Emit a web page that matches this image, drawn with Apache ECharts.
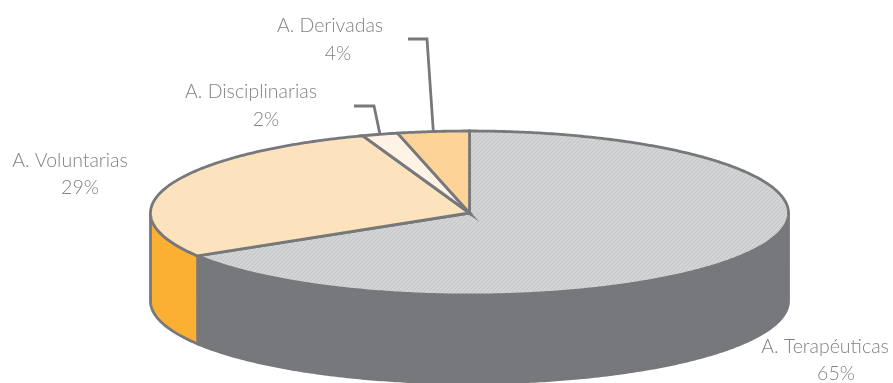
<!DOCTYPE html>
<html>
<head>
<meta charset="utf-8">
<style>html,body{margin:0;padding:0;background:#fff}#c{width:893px;height:383px}</style>
<script src="https://cdn.jsdelivr.net/npm/echarts@6/dist/echarts.min.js"></script>
</head>
<body>
<div id="c"></div>
<script>
var categories = ['A. Terapéuticas', 'A. Voluntarias', 'A. Disciplinarias', 'A. Derivadas'];
var values = [65, 29, 2, 4];

var topColors = [null, '#fde3bd', '#fef3e5', '#fdd398'];
var wallColors = ['#77787b', '#fbb034', '#fbb034', '#fbb034'];
var OUTLINE = '#77787b', TEXT = '#808285';
var CX = 469.5, CY = 213, RX = 319, RY = 82, DEPTH = 88, WARP = 5.5;
// label layout: name centre x,y ; percent centre x,y ; optional leader elbow
var labelPos = [
  [825, 347, 836, 374, null],
  [70, 161, 80, 188, null],
  [251, 92, 266, 120, [[354, 106], [374, 106]]],
  [330, 26, 338, 54, [[408, 39], [427, 39]]]
];

var total = values.reduce(function (a, b) { return a + b; }, 0);
function share(i) { return values.slice(0, i).reduce(function (a, b) { return a + b; }, 0) / total; }
// fraction of the pie -> angle on the tilted ellipse, clockwise from 12 o'clock
function ang(f) { var t = f * 2 * Math.PI; return t - WARP * Math.PI / 180 * Math.sin(t); }
function rim(a, dz) { return [CX + RX * Math.sin(a), CY - RY * Math.cos(a) + (dz || 0)]; }
function arc(a0, a1, dz) {
  var n = Math.max(2, Math.ceil(Math.abs(a1 - a0) / 0.01)), pts = [];
  for (var i = 0; i <= n; i++) pts.push(rim(a0 + (a1 - a0) * i / n, dz));
  return pts;
}
function hatch() {
  var s = 4, c = document.createElement('canvas');
  c.width = c.height = s;
  var g = c.getContext('2d');
  g.fillStyle = '#d3d4d6'; g.fillRect(0, 0, s, s);
  g.strokeStyle = '#c3c4c6'; g.lineWidth = 1;
  g.beginPath(); g.moveTo(-1, 1); g.lineTo(1, -1); g.moveTo(-1, 5); g.lineTo(5, -1); g.moveTo(3, 5); g.lineTo(5, 3); g.stroke();
  return { image: c, repeat: 'repeat' };
}
topColors[0] = hatch();

function toPx(api, pts) { return pts.map(function (p) { return api.coord(p); }); }

function renderWall(params, api) {
  var i = api.value(0);
  var a0 = ang(share(i)), a1 = ang(share(i + 1));
  var lo = Math.max(a0, Math.PI / 2), hi = Math.min(a1, 3 * Math.PI / 2);
  if (hi <= lo) return null;
  var pts = arc(lo, hi, 0).concat(arc(hi, lo, DEPTH));
  return { type: 'polygon', shape: { points: toPx(api, pts) },
    style: { fill: wallColors[i], stroke: OUTLINE, lineWidth: 2.8, lineJoin: 'round' } };
}
function renderTop(params, api) {
  var i = api.value(0);
  var pts = [[CX, CY]].concat(arc(ang(share(i)), ang(share(i + 1)), 0));
  return { type: 'polygon', shape: { points: toPx(api, pts) },
    style: { fill: topColors[i], stroke: OUTLINE, lineWidth: 2.8, lineJoin: 'miter' } };
}
function renderLabel(params, api) {
  var i = api.value(0), p = labelPos[i], kids = [];
  var font = { fill: TEXT, fontFamily: 'Lato', fontWeight: 300, fontSize: 19.5, align: 'center', verticalAlign: 'middle' };
  function txt(s, x, y) {
    var q = api.coord([x, y]);
    return { type: 'text', x: q[0], y: q[1], style: Object.assign({ text: s }, font) };
  }
  kids.push(txt(categories[i], p[0], p[1]));
  kids.push(txt(api.value(1) + '%', p[2], p[3]));
  if (p[4]) {
    var mid = ang((share(i) + share(i + 1)) / 2);
    kids.push({ type: 'polyline', shape: { points: toPx(api, p[4].concat([rim(mid, 0)])) },
      style: { fill: null, stroke: OUTLINE, lineWidth: 2.8 } });
  }
  return { type: 'group', children: kids };
}

var rows = values.map(function (v, i) { return [i, v]; });
var chart = echarts.init(document.getElementById('c'), null, { renderer: 'canvas' });
chart.setOption({
  animation: false,
  backgroundColor: '#fff',
  grid: { left: 0, right: 0, top: 0, bottom: 0 },
  xAxis: { type: 'value', min: 0, max: 893, show: false },
  yAxis: { type: 'value', min: 0, max: 383, inverse: true, show: false },
  series: [
    { type: 'custom', clip: false, renderItem: renderWall, data: rows, z: 1, encode: { x: 0, y: 1 } },
    { type: 'custom', clip: false, renderItem: renderTop, data: rows, z: 2, encode: { x: 0, y: 1 } },
    { type: 'custom', clip: false, renderItem: renderLabel, data: rows, z: 3, encode: { x: 0, y: 1 } }
  ]
});
</script>
</body>
</html>
